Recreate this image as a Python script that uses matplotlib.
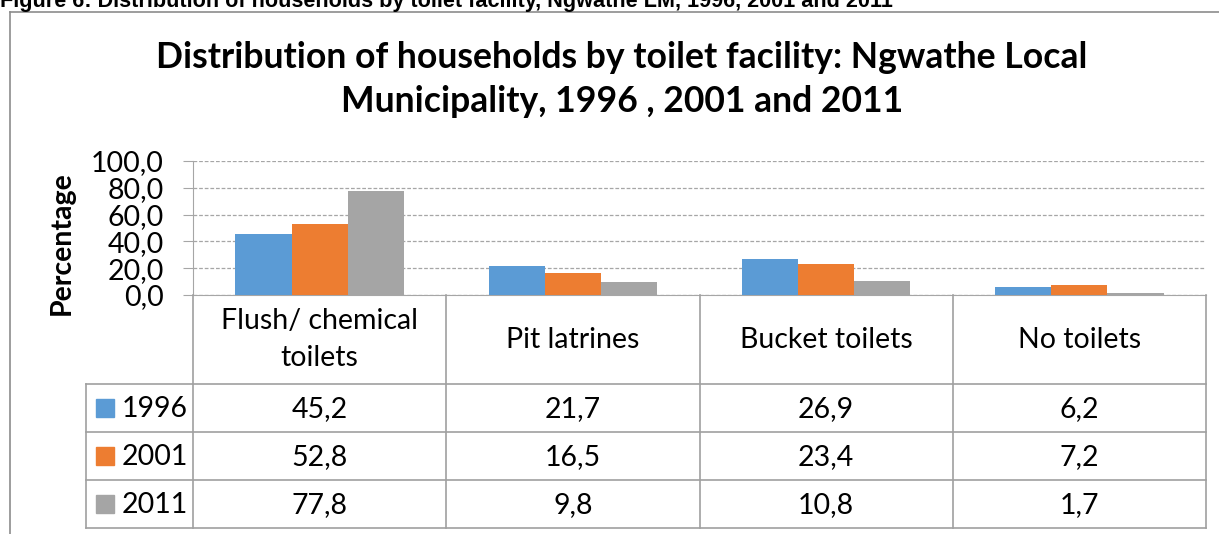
import matplotlib
matplotlib.use("Agg")
import matplotlib.pyplot as plt
from matplotlib.lines import Line2D
from matplotlib.patches import Rectangle
import numpy as np

categories = ["Flush/ chemical\ntoilets", "Pit latrines", "Bucket toilets", "No toilets"]
years = ["1996", "2001", "2011"]
v1996 = [45.2, 21.7, 26.9, 6.2]
v2001 = [52.8, 16.5, 23.4, 7.2]
v2011 = [77.8, 9.8, 10.8, 1.7]
yticks = [0, 20, 40, 60, 80, 100]
title = "Distribution of households by toilet facility: Ngwathe Local\nMunicipality, 1996 , 2001 and 2011"
caption = "Figure 6: Distribution of households by toilet facility, Ngwathe LM, 1996, 2001 and 2011"

series = [v1996, v2001, v2011]
colors = ["#5B9BD5", "#ED7D31", "#A5A5A5"]
grid_c = "#A6A6A6"
FONT = "Lato"
FS = 20.5

W, H = 1219, 534
fig = plt.figure(figsize=(W / 100, H / 100), dpi=100)

def fx(px):
    return px / W

def fy(py):
    return 1 - py / H

# outer frame (left and top)
fig.add_artist(Line2D([fx(10), fx(10)], [fy(12), fy(540)], color="#8C8C8C", lw=1.2))
fig.add_artist(Line2D([fx(10), fx(1225)], [fy(12), fy(12)], color="#8C8C8C", lw=1.2))

# caption (clipped at top)
fig.text(fx(0), fy(7.5), caption, fontsize=15.6, fontweight="bold", family="Liberation Sans",
         ha="left", va="baseline", color="#000000")

# title
tl = title.split("\n")
fig.text(fx(622), fy(57), tl[0], fontsize=25.6, fontweight="bold", family=FONT,
         ha="center", va="center")
fig.text(fx(622), fy(102), tl[1], fontsize=25.6, fontweight="bold", family=FONT,
         ha="center", va="center")

# bar axes
L, R, T, B = 193, 1206, 161, 295
ax = fig.add_axes([fx(L), fy(B), fx(R - L), fy(T) - fy(B)])
n = len(categories)
x = np.arange(n)
bw = 0.222
for i, (s, c) in enumerate(zip(series, colors)):
    ax.bar(x + (i - 1) * bw, s, width=bw, color=c, zorder=3)
ax.set_xlim(-0.5, n - 0.5)
ax.set_ylim(0, 100)
ax.set_yticks(yticks)
ax.set_yticklabels([f"{t:.1f}".replace(".", ",") for t in yticks], fontsize=FS, family=FONT)
ax.set_xticks([])
ax.yaxis.grid(True, color=grid_c, linestyle=(0, (3, 1.5)), lw=0.9, zorder=0)
for sp in ["top", "right"]:
    ax.spines[sp].set_visible(False)
ax.spines["left"].set_color(grid_c)
ax.spines["bottom"].set_color(grid_c)
ax.tick_params(axis="y", length=7, color=grid_c, pad=14)
ax.set_ylabel("Percentage", fontsize=FS, fontweight="bold", family=FONT)
ax.yaxis.set_label_coords(-(193 - 75) / (R - L), 0.39)
ax.yaxis.label.set_verticalalignment("bottom")

# data table axes
TL, TB = 86, 528
tax = fig.add_axes([fx(TL), fy(TB), fx(R - TL), fy(B) - fy(TB)])
colw = (R - L) / n
left_unit = -0.5 - (L - TL) / colw
tax.set_xlim(left_unit, n - 0.5)
rows_y = [0, 89, 137, 185, 233]
tax.set_ylim(233, 0)
tax.axis("off")
lc = "#A0A0A0"
lw = 1.2
for k in range(n + 1):
    xv = k - 0.5
    tax.plot([xv, xv], [0, 233], color=lc, lw=lw, clip_on=False)
tax.plot([left_unit, left_unit], [89, 233], color=lc, lw=lw, clip_on=False)
for yv in rows_y[1:]:
    tax.plot([left_unit, n - 0.5], [yv, yv], color=lc, lw=lw, clip_on=False)
for k, cat in enumerate(categories):
    tax.text(k, 44.5, cat, ha="center", va="center", fontsize=FS, family=FONT,
             linespacing=1.5)
for r, (yr, s, c) in enumerate(zip(years, series, colors)):
    yc = (rows_y[r + 1] + rows_y[r + 2]) / 2
    tax.add_patch(Rectangle((left_unit + 10 / colw, yc - 9), 18 / colw, 18, color=c, clip_on=False))
    tax.text(left_unit + 36 / colw, yc + 1, yr, ha="left", va="center", fontsize=FS, family=FONT)
    for k, v in enumerate(s):
        tax.text(k, yc + 1, f"{v:.1f}".replace(".", ","), ha="center", va="center",
                 fontsize=FS, family=FONT)

fig.savefig("out.png", dpi=100)
